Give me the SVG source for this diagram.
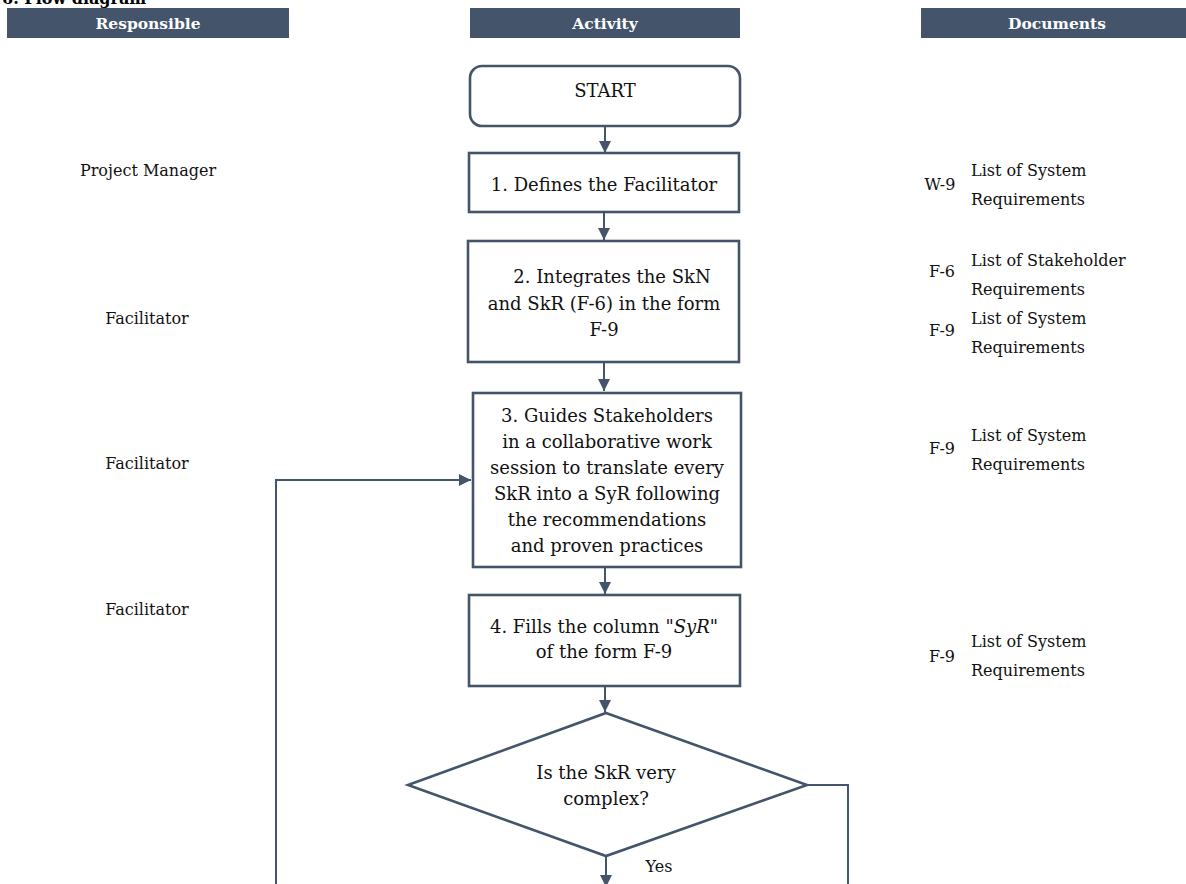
<svg xmlns="http://www.w3.org/2000/svg" width="1186" height="884" viewBox="0 0 1186 884">
<defs>
<marker id="arr" viewBox="0 0 10 10" refX="10" refY="5" markerWidth="6" markerHeight="6" markerUnits="strokeWidth" orient="auto">
<path d="M0,0 L10,5 L0,10 z" fill="#44546a"/>
</marker>
</defs>
<style>
.hdr{fill:#44546a}
.ht{font-family:"DejaVu Serif","Liberation Serif",serif;font-size:15.5px;font-weight:bold;fill:#fff;text-anchor:middle}
.box{fill:#fff;stroke:#44546a;stroke-width:2.6}
.t{font-family:"DejaVu Serif","Liberation Serif",serif;font-size:16px;fill:#111}
.b{font-size:18px}
.c{text-anchor:middle}
.con{fill:none;stroke:#44546a;stroke-width:2}
</style>
<rect width="1186" height="884" fill="#fff"/>
<text x="2" y="4" font-family="DejaVu Serif, Liberation Serif, serif" font-size="16" font-weight="bold" fill="#000">6. Flow diagram</text>
<g id="headers">
<rect class="hdr" x="7" y="8" width="282" height="30"/>
<text class="ht" x="148" y="29">Responsible</text>
<rect class="hdr" x="470" y="8" width="270" height="30"/>
<text class="ht" x="605" y="29">Activity</text>
<rect class="hdr" x="921" y="8" width="265" height="30"/>
<text class="ht" x="1057" y="29">Documents</text>
</g>
<g id="responsible">
<text class="t c" x="148" y="176">Project Manager</text>
<text class="t c" x="147" y="324">Facilitator</text>
<text class="t c" x="147" y="469">Facilitator</text>
<text class="t c" x="147" y="615">Facilitator</text>
</g>
<g id="documents">
<text class="t c" x="940" y="190">W-9</text>
<text class="t" x="971" y="176">List of System</text>
<text class="t" x="971" y="205">Requirements</text>
<text class="t c" x="942" y="277">F-6</text>
<text class="t" x="971" y="266">List of Stakeholder</text>
<text class="t" x="971" y="295">Requirements</text>
<text class="t c" x="942" y="336">F-9</text>
<text class="t" x="971" y="324">List of System</text>
<text class="t" x="971" y="353">Requirements</text>
<text class="t c" x="942" y="454">F-9</text>
<text class="t" x="971" y="441">List of System</text>
<text class="t" x="971" y="470">Requirements</text>
<text class="t c" x="942" y="662">F-9</text>
<text class="t" x="971" y="647">List of System</text>
<text class="t" x="971" y="676">Requirements</text>
</g>
<g id="connectors">
<line class="con" x1="605" y1="126" x2="605" y2="153" marker-end="url(#arr)"/>
<line class="con" x1="604" y1="212" x2="604" y2="240" marker-end="url(#arr)"/>
<line class="con" x1="604" y1="362" x2="604" y2="391" marker-end="url(#arr)"/>
<line class="con" x1="605" y1="567" x2="605" y2="594" marker-end="url(#arr)"/>
<line class="con" x1="605" y1="686" x2="605" y2="712" marker-end="url(#arr)"/>
<line class="con" x1="606" y1="856" x2="606" y2="887" marker-end="url(#arr)"/>
<polyline class="con" points="807,785 848,785 848,884"/>
<polyline class="con" points="276,884 276,480 471,480" marker-end="url(#arr)"/>
<text class="t c" x="659" y="872">Yes</text>
</g>
<g id="start">
<rect class="box" x="470" y="66" width="270" height="60" rx="12"/>
<text class="t b c" x="605" y="97">START</text>
</g>
<g id="step1">
<rect class="box" x="469" y="153" width="270" height="59"/>
<text class="t b c" x="604" y="191">1. Defines the Facilitator</text>
</g>
<g id="step2">
<rect class="box" x="468" y="241" width="271" height="121"/>
<text class="t b c" x="612" y="283">2. Integrates the  SkN</text>
<text class="t b c" x="604" y="310">and SkR (F-6) in the form</text>
<text class="t b c" x="604" y="336">F-9</text>
</g>
<g id="step3">
<rect class="box" x="473" y="393" width="268" height="174"/>
<text class="t b c" x="607" y="422">3. Guides Stakeholders</text>
<text class="t b c" x="607" y="448">in a collaborative work</text>
<text class="t b c" x="607" y="474">session to translate every</text>
<text class="t b c" x="607" y="500">SkR into a SyR following</text>
<text class="t b c" x="607" y="526">the recommendations</text>
<text class="t b c" x="607" y="552">and proven practices</text>
</g>
<g id="step4">
<rect class="box" x="469" y="595" width="271" height="91"/>
<text class="t b c" x="604" y="633">4. Fills the column "<tspan font-style="italic">SyR</tspan>"</text>
<text class="t b c" x="604" y="658">of the form F-9</text>
</g>
<g id="decision">
<polygon class="box" points="606,713 807,785 606,856 408,785"/>
<text class="t b c" x="606" y="779">Is the SkR very</text>
<text class="t b c" x="606" y="805">complex?</text>
</g>
</svg>
